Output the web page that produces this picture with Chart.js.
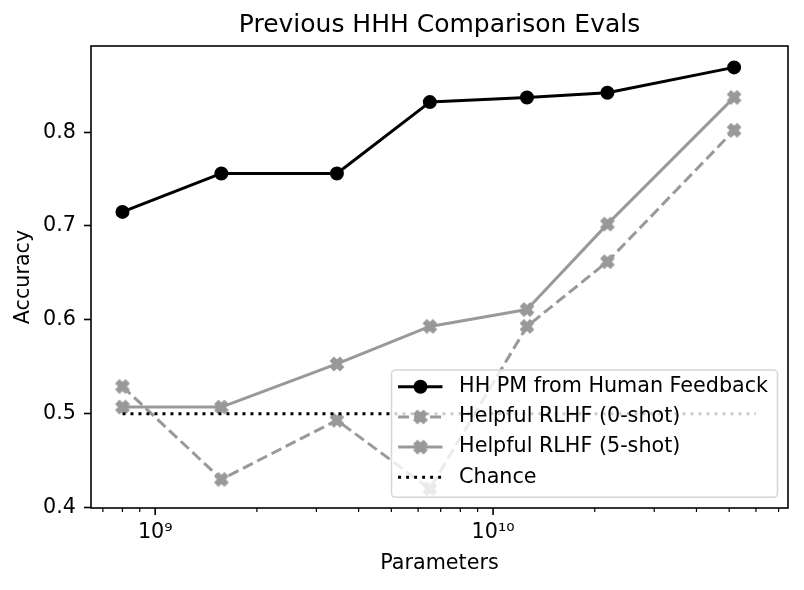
<!DOCTYPE html>
<html>
<head>
<meta charset="utf-8">
<script src="https://cdn.jsdelivr.net/npm/chart.js@4.4.1/dist/chart.umd.min.js"></script>
<style>
  html, body { margin: 0; padding: 0; background: #fff; }
</style>
</head>
<body>
<canvas id="hhh-chart" width="804" height="590"></canvas>
<script>
// Values
const params = [8.0e8, 1.57e9, 3.45e9, 6.5e9, 1.26e10, 2.18e10, 5.17e10];
const hhPm = [0.715, 0.756, 0.756, 0.832, 0.837, 0.842, 0.869];
const rlhfZeroShot = [0.529, 0.430, 0.493, 0.420, 0.593, 0.662, 0.802];
const rlhfFiveShot = [0.507, 0.507, 0.553, 0.593, 0.611, 0.702, 0.837];
const chanceX = [8.0e8, 6.0e10];
const chanceY = [0.5, 0.5];
const seriesLabels = ['HH PM from Human Feedback', 'Helpful RLHF (0-shot)', 'Helpful RLHF (5-shot)', 'Chance'];
const yTicks = [0.4, 0.5, 0.6, 0.7, 0.8];
const xMajorTicks = [1e9, 1e10];
const xTickLabels = ['10⁹', '10¹⁰'];
const xMinorTicks = [7e8, 8e8, 9e8, 2e9, 3e9, 4e9, 5e9, 6e9, 7e9, 8e9, 9e9, 2e10, 3e10, 4e10, 5e10, 6e10, 7e10];

const GRAY = '#999999';
const FONT_SIZE = 20.7;

Chart.defaults.font.family = '"DejaVu Sans", sans-serif';
Chart.defaults.font.size = FONT_SIZE;
Chart.defaults.color = '#000';

// filled "X" marker like matplotlib's 'X'
function makeXMarker(color) {
  const c = document.createElement('canvas');
  c.width = 18; c.height = 18;
  const g = c.getContext('2d');
  const pts = [[-1,-2],[0,-1],[1,-2],[2,-1],[1,0],[2,1],[1,2],[0,1],[-1,2],[-2,1],[-1,0],[-2,-1]];
  g.beginPath();
  pts.forEach(([px, py], i) => {
    const x = 9 + px * 3, y = 9 + py * 3;
    if (i === 0) g.moveTo(x, y); else g.lineTo(x, y);
  });
  g.closePath();
  g.fillStyle = color;
  g.strokeStyle = color;
  g.lineWidth = 2;
  g.lineJoin = 'miter';
  g.fill();
  g.stroke();
  return c;
}
const xMarker = makeXMarker(GRAY);

const toPoints = (xs, ys) => xs.map((x, i) => ({x: x, y: ys[i]}));

// frame + minor/major ticks on the log axis
const axesDeco = {
  id: 'axesDeco',
  afterDatasetsDraw(chart) {
    const {ctx, chartArea: a, scales} = chart;
    ctx.save();
    ctx.strokeStyle = '#000';
    ctx.lineWidth = 1.6;
    ctx.strokeRect(a.left, a.top, a.right - a.left, a.bottom - a.top);
    xMajorTicks.forEach(v => {
      const px = scales.x.getPixelForValue(v);
      ctx.beginPath(); ctx.moveTo(px, a.bottom); ctx.lineTo(px, a.bottom + 7); ctx.stroke();
    });
    ctx.lineWidth = 1.2;
    xMinorTicks.forEach(v => {
      const px = scales.x.getPixelForValue(v);
      ctx.beginPath(); ctx.moveTo(px, a.bottom); ctx.lineTo(px, a.bottom + 4); ctx.stroke();
    });
    ctx.restore();
  }
};

// legend box in the lower right, like matplotlib's
const legendBox = {
  id: 'legendBox',
  afterDatasetsDraw(chart) {
    const {ctx, chartArea: a} = chart;
    ctx.save();
    ctx.font = FONT_SIZE + 'px "DejaVu Sans"';
    const textW = Math.max(...seriesLabels.map(t => ctx.measureText(t).width));
    const w = 67.6 + textW + 9.4;
    const h = 127.3;
    const x0 = a.right - 10.5 - w;
    const y0 = a.bottom - 10.7 - h;
    const r = 4;
    ctx.beginPath();
    ctx.moveTo(x0 + r, y0);
    ctx.lineTo(x0 + w - r, y0); ctx.arcTo(x0 + w, y0, x0 + w, y0 + r, r);
    ctx.lineTo(x0 + w, y0 + h - r); ctx.arcTo(x0 + w, y0 + h, x0 + w - r, y0 + h, r);
    ctx.lineTo(x0 + r, y0 + h); ctx.arcTo(x0, y0 + h, x0, y0 + h - r, r);
    ctx.lineTo(x0, y0 + r); ctx.arcTo(x0, y0, x0 + r, y0, r);
    ctx.closePath();
    ctx.fillStyle = 'rgba(255,255,255,0.8)';
    ctx.fill();
    ctx.strokeStyle = '#d6d6d6';
    ctx.lineWidth = 1.5;
    ctx.stroke();

    const styles = [
      {color: '#000', dash: [], marker: 'circle'},
      {color: GRAY, dash: [11, 5], marker: 'x'},
      {color: GRAY, dash: [], marker: 'x'},
      {color: '#000', dash: [3, 5], marker: null}
    ];
    seriesLabels.forEach((label, i) => {
      const cy = y0 + 16.7 + i * 30.2;
      const st = styles[i];
      ctx.strokeStyle = st.color;
      ctx.lineWidth = 3;
      ctx.setLineDash(st.dash);
      ctx.beginPath(); ctx.moveTo(x0 + 6.6, cy); ctx.lineTo(x0 + 51, cy); ctx.stroke();
      ctx.setLineDash([]);
      const mx = x0 + 29;
      if (st.marker === 'circle') {
        ctx.fillStyle = st.color;
        ctx.lineWidth = 2;
        ctx.beginPath(); ctx.arc(mx, cy, 6, 0, Math.PI * 2); ctx.fill(); ctx.stroke();
      } else if (st.marker === 'x') {
        ctx.drawImage(xMarker, mx - 9, cy - 9);
      }
      ctx.fillStyle = '#000';
      ctx.textBaseline = 'middle';
      ctx.textAlign = 'left';
      ctx.fillText(label, x0 + 67.6, cy);
    });
    ctx.restore();
  }
};

const ctx = document.getElementById('hhh-chart');

new Chart(ctx, {
  type: 'line',
  data: {
    datasets: [
      {
        label: seriesLabels[3],
        data: toPoints(chanceX, chanceY),
        borderColor: '#000',
        borderWidth: 3,
        borderDash: [3, 5],
        pointRadius: 0
      },
      {
        label: seriesLabels[2],
        data: toPoints(params, rlhfFiveShot),
        borderColor: GRAY,
        borderWidth: 3,
        borderJoinStyle: 'round',
        pointStyle: xMarker,
        pointRadius: 7
      },
      {
        label: seriesLabels[1],
        data: toPoints(params, rlhfZeroShot),
        borderColor: GRAY,
        borderWidth: 3,
        borderDash: [11, 5],
        pointStyle: xMarker,
        pointRadius: 7
      },
      {
        label: seriesLabels[0],
        data: toPoints(params, hhPm),
        borderColor: '#000',
        backgroundColor: '#000',
        borderWidth: 3,
        borderJoinStyle: 'round',
        pointStyle: 'circle',
        pointRadius: 6,
        pointBorderWidth: 2,
        pointBackgroundColor: '#000',
        pointBorderColor: '#000'
      }
    ]
  },
  options: {
    responsive: false,
    animation: false,
    devicePixelRatio: 1,
    layout: { padding: { left: 0, right: 16, top: 0, bottom: 0 } },
    scales: {
      x: {
        type: 'logarithmic',
        min: Math.pow(10, 8.81),
        max: Math.pow(10, 10.873),
        afterBuildTicks: s => {
          s.ticks = [...xMinorTicks, ...xMajorTicks].sort((p, q) => p - q).map(v => ({value: v}));
        },
        afterFit: s => { s.height = 82; },
        grid: { display: false, drawTicks: false },
        border: { display: false },
        ticks: {
          autoSkip: false,
          maxRotation: 0,
          padding: 12,
          color: '#000',
          callback: v => {
            const i = xMajorTicks.indexOf(v);
            return i >= 0 ? xTickLabels[i] : '';
          }
        },
        title: { display: true, text: 'Parameters', color: '#000', padding: { top: 0, bottom: 14 } }
      },
      y: {
        min: 0.3995,
        max: 0.8918,
        afterBuildTicks: s => { s.ticks = yTicks.map(v => ({value: v})); },
        afterFit: s => { s.width = 91; },
        grid: { drawOnChartArea: false, drawTicks: true, tickLength: 7, tickWidth: 1.6, tickColor: '#000' },
        border: { display: false },
        ticks: { padding: 8, color: '#000', callback: v => v.toFixed(1) },
        title: { display: true, text: 'Accuracy', color: '#000', padding: { top: 11, bottom: 0 } }
      }
    },
    plugins: {
      legend: { display: false },
      tooltip: { enabled: false },
      title: {
        display: true,
        text: 'Previous HHH Comparison Evals',
        color: '#000',
        fullSize: false,
        font: { size: 25, weight: 'normal' },
        padding: { top: 10, bottom: 6 }
      }
    }
  },
  plugins: [axesDeco, legendBox]
});
</script>
</body>
</html>
